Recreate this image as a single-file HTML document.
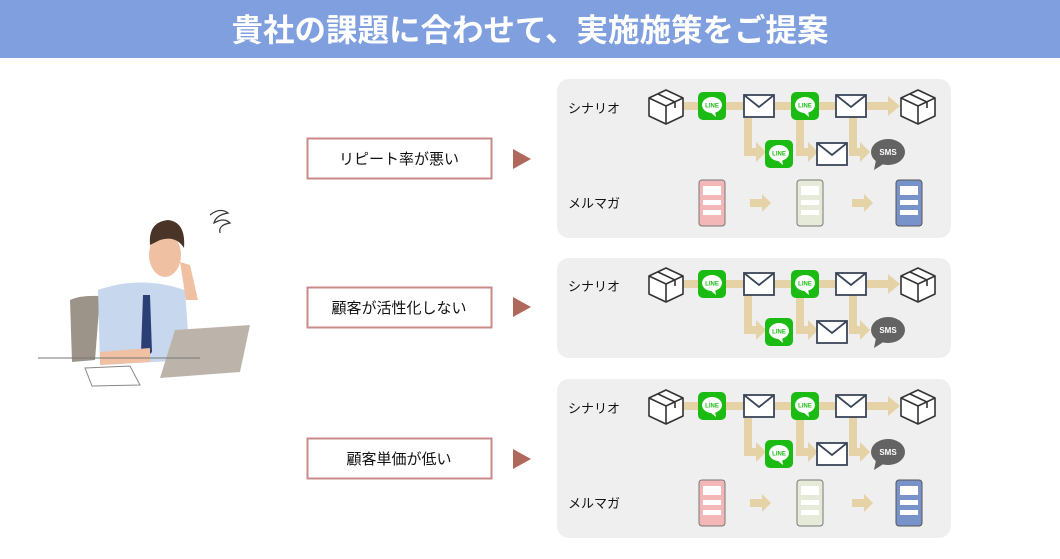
<!DOCTYPE html>
<html><head><meta charset="utf-8"><style>
html,body{margin:0;padding:0;background:#fff;width:1060px;height:559px;overflow:hidden}
svg{display:block}
text{font-family:"Liberation Sans","Noto Sans CJK JP",sans-serif}
</style></head><body>
<svg width="1060" height="559" viewBox="0 0 1060 559" xmlns="http://www.w3.org/2000/svg">
<defs>
<g id="box">
 <path d="M-17,-8 L0,-16 L17,-8 L17,10 L0,18 L-17,10 Z" fill="#fff" stroke="#333" stroke-width="1.6" stroke-linejoin="round"/>
 <path d="M-17,-8 L0,0 L17,-8 M0,0 L0,18 M-8,-12 L9,-4 L9,2" fill="none" stroke="#333" stroke-width="1.6"/>
</g>
<g id="line">
 <rect x="-14" y="-14" width="28" height="28" rx="5" fill="#1cbb14"/>
 <ellipse cx="0" cy="-1" rx="10" ry="8" fill="#fff"/>
 <path d="M-2,6 L4,11 L3,5 Z" fill="#fff"/>
 <text x="0" y="1.5" font-size="6" font-weight="bold" fill="#1cbb14" text-anchor="middle">LINE</text>
</g>
<g id="mail">
 <rect x="-15" y="-11" width="30" height="22" fill="#fff" stroke="#3a4558" stroke-width="1.8"/>
 <path d="M-15,-11 L0,1 L15,-11" fill="none" stroke="#3a4558" stroke-width="1.8"/>
</g>
<g id="sms">
 <ellipse cx="0" cy="0" rx="17" ry="13" fill="#636363"/>
 <path d="M-12,8 L-14,18 L-3,11 Z" fill="#636363"/>
 <text x="0" y="3" font-size="8" font-weight="bold" fill="#fff" text-anchor="middle">SMS</text>
</g>
<g id="arr"><path d="M-10,-4 L2,-4 L2,-9 L11,0 L2,9 L2,4 L-10,4 Z" fill="#e5d2a6"/></g>
</defs>

<rect x="0" y="0" width="1060" height="58" fill="#7f9fde"/>
<text x="530" y="41" font-size="31.5" font-weight="bold" fill="#fff" text-anchor="middle">貴社の課題に合わせて、実施施策をご提案</text>

<!-- person (simplified) -->
<g>
 <path d="M70,300 Q80,295 100,296 L95,360 L72,362 Z" fill="#9c9389"/>
 <path d="M98,290 Q140,275 185,290 L190,360 L100,365 Z" fill="#c7d7ee"/>
 <path d="M143,295 L150,295 L152,352 L146,358 L141,352 Z" fill="#2c3f75"/>
 <ellipse cx="165" cy="255" rx="16" ry="22" fill="#efc0a2"/>
 <path d="M150,245 Q148,222 168,220 Q186,222 184,248 Q176,235 160,240 Z" fill="#4a3427"/>
 <path d="M180,262 L190,265 L198,300 L186,300 Z" fill="#efc0a2"/>
 <path d="M100,352 L150,348 L150,362 L100,365 Z" fill="#efc0a2"/>
 <path d="M175,330 L250,325 L240,372 L160,378 Z" fill="#bcb4ab"/>
 <path d="M38,358 L200,358" stroke="#777" stroke-width="1"/>
 <path d="M85,368 L130,366 L140,385 L92,386 Z" fill="#fff" stroke="#888" stroke-width="1"/>
 <path d="M210,215 q10,-8 18,-2 q-12,2 -14,10 q10,-6 16,0 q-12,2 -10,10" fill="none" stroke="#333" stroke-width="1.2"/>
</g>

<!-- problem boxes -->
<g font-size="15" fill="#111" text-anchor="middle">
 <rect x="307.5" y="138.5" width="184" height="40" fill="#fff" stroke="#c98a8a" stroke-width="2"/>
 <text x="399" y="164">リピート率が悪い</text>
 <rect x="307.5" y="287.5" width="184" height="40" fill="#fff" stroke="#c98a8a" stroke-width="2"/>
 <text x="399" y="313">顧客が活性化しない</text>
 <rect x="307.5" y="438.5" width="184" height="40" fill="#fff" stroke="#c98a8a" stroke-width="2"/>
 <text x="399" y="464">顧客単価が低い</text>
</g>
<path d="M513,149 L531,159 L513,169 Z" fill="#b0685c"/>
<path d="M513,297 L531,307 L513,317 Z" fill="#b0685c"/>
<path d="M513,449 L531,459 L513,469 Z" fill="#b0685c"/>

<!-- panels -->
<rect x="557" y="79" width="394" height="159" rx="12" fill="#efefef"/>
<rect x="557" y="258" width="394" height="100" rx="12" fill="#efefef"/>
<rect x="557" y="379" width="394" height="159" rx="12" fill="#efefef"/>

<!-- scenario template -->
<g id="scen">
 <text x="568" y="113" font-size="13" fill="#111">シナリオ</text>
 <rect x="680" y="102" width="210" height="8" fill="#e5d2a6"/>
 <path d="M888,96 L900,106 L888,116 Z" fill="#e5d2a6"/>
 <rect x="744" y="110" width="8" height="46" fill="#e5d2a6"/>
 <rect x="744" y="148" width="14" height="8" fill="#e5d2a6"/>
 <path d="M756,142 L766,152 L756,162 Z" fill="#e5d2a6"/>
 <rect x="796" y="110" width="8" height="46" fill="#e5d2a6"/>
 <rect x="796" y="148" width="14" height="8" fill="#e5d2a6"/>
 <path d="M808,142 L818,152 L808,162 Z" fill="#e5d2a6"/>
 <rect x="849" y="110" width="8" height="46" fill="#e5d2a6"/>
 <rect x="849" y="148" width="12" height="8" fill="#e5d2a6"/>
 <path d="M860,142 L870,152 L860,162 Z" fill="#e5d2a6"/>
 <use href="#box" x="666" y="106"/>
 <use href="#line" x="712" y="106"/>
 <use href="#mail" x="759" y="106"/>
 <use href="#line" x="805" y="106"/>
 <use href="#mail" x="851" y="106"/>
 <use href="#box" x="918" y="106"/>
 <use href="#line" x="779" y="154"/>
 <use href="#mail" x="832" y="154"/>
 <use href="#sms" x="888" y="152"/>
</g>
<use href="#scen" x="0" y="178"/>
<use href="#scen" x="0" y="300"/>

<!-- mail magazine template -->
<g id="mag">
 <text x="568" y="208" font-size="13" fill="#111">メルマガ</text>
 <g>
  <rect x="699" y="180" width="26" height="46" rx="3" fill="#f3b7b7" stroke="#777" stroke-width="1"/>
  <rect x="703" y="186" width="18" height="9" fill="#fff"/>
  <rect x="703" y="200" width="18" height="5" fill="#fff"/><rect x="703" y="210" width="18" height="5" fill="#fff"/>
 </g>
 <g>
  <rect x="797" y="180" width="26" height="46" rx="3" fill="#e6ebd9" stroke="#777" stroke-width="1"/>
  <rect x="801" y="186" width="18" height="9" fill="#fff"/>
  <rect x="801" y="200" width="18" height="5" fill="#fff"/><rect x="801" y="210" width="18" height="5" fill="#fff"/>
 </g>
 <g>
  <rect x="896" y="180" width="26" height="46" rx="3" fill="#7893c9" stroke="#555" stroke-width="1"/>
  <rect x="900" y="186" width="18" height="9" fill="#fff"/>
  <rect x="900" y="200" width="18" height="5" fill="#fff"/><rect x="900" y="210" width="18" height="5" fill="#fff"/>
 </g>
 <use href="#arr" x="760" y="203"/>
 <use href="#arr" x="862" y="203"/>
</g>
<use href="#mag" x="0" y="300"/>
</svg>
</body></html>
